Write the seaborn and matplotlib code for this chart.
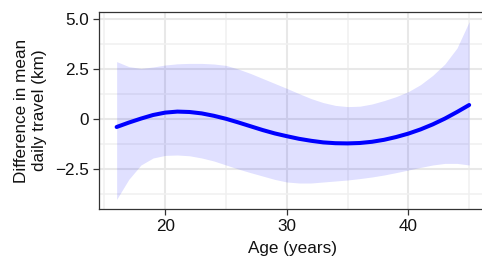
import numpy as np
import pandas as pd
import matplotlib
matplotlib.use("Agg")
import matplotlib.pyplot as plt
import seaborn as sns

# values
ages = [16, 17, 18, 19, 20, 21, 22, 23, 24, 25, 26, 27, 28, 29, 30,
        31, 32, 33, 34, 35, 36, 37, 38, 39, 40, 41, 42, 43, 44, 45]
mean_diff = [-0.40, -0.18, 0.02, 0.20, 0.32, 0.37, 0.35, 0.28, 0.16, 0.01,
             -0.17, -0.36, -0.55, -0.72, -0.86, -0.99, -1.09, -1.17, -1.21, -1.22,
             -1.20, -1.14, -1.04, -0.90, -0.73, -0.52, -0.27, 0.02, 0.35, 0.70]
upper = [2.87, 2.62, 2.53, 2.60, 2.70, 2.76, 2.78, 2.78, 2.75, 2.68,
         2.50, 2.28, 2.03, 1.78, 1.53, 1.27, 1.02, 0.82, 0.68, 0.62,
         0.64, 0.75, 0.92, 1.12, 1.37, 1.72, 2.18, 2.75, 3.55, 4.87]
lower = [-4.02, -3.02, -2.30, -1.95, -1.82, -1.80, -1.84, -1.95, -2.10, -2.30,
         -2.50, -2.68, -2.85, -3.02, -3.15, -3.20, -3.20, -3.15, -3.10, -3.05,
         -2.98, -2.90, -2.80, -2.68, -2.55, -2.42, -2.30, -2.22, -2.22, -2.30]

x_ticks = [20, 30, 40]
x_minor = [15, 25, 35, 45]
y_ticks = [5.0, 2.5, 0, -2.5]
y_tick_labels = ["5.0", "2.5", "0", "\u22122.5"]
y_minor = [3.75, 1.25, -1.25, -3.75]

df = pd.DataFrame({"age": ages, "diff": mean_diff, "lo": lower, "hi": upper})

sns.set_theme(style="white")
plt.rcParams["font.family"] = ["Liberation Sans", "DejaVu Sans"]

fig = plt.figure(figsize=(4.82, 2.69), dpi=100)
ax = fig.add_axes([99 / 482, 60 / 269, 387.8 / 482, 197 / 269])

# grid (major + minor), drawn below the data
ax.set_axisbelow(True)
ax.set_xticks(x_ticks)
ax.set_xticks(x_minor, minor=True)
ax.set_yticks(y_ticks)
ax.set_yticks(y_minor, minor=True)
ax.set_yticklabels(y_tick_labels)
ax.grid(which="major", color="#e8e8e8", linewidth=1.5)
ax.grid(which="minor", color="#f0f0f0", linewidth=1.1)

ax.fill_between(df["age"], df["lo"], df["hi"], color="#0000ff", alpha=0.12,
                linewidth=0, zorder=2)
sns.lineplot(data=df, x="age", y="diff", color="#0000ff", linewidth=2.9,
             ax=ax, zorder=3)

ax.set_xlim(14.55, 46.45)
ax.set_ylim(-4.5, 5.35)

for side in ["left", "bottom", "top"]:
    ax.spines[side].set_visible(True)
    ax.spines[side].set_color("#333333")
    ax.spines[side].set_linewidth(0.9)
ax.spines["right"].set_visible(False)

ax.tick_params(which="major", direction="out", length=4.3, width=0.9,
               color="#333333", labelsize=12.3, labelcolor="#111111", pad=3)
ax.tick_params(which="minor", length=0)
ax.tick_params(axis="x", bottom=True)
ax.tick_params(axis="y", left=True)

ax.set_xlabel("Age (years)", fontsize=12.3, labelpad=5, color="#111111")
ax.set_ylabel("Difference in mean\ndaily travel (km)", fontsize=12.3,
              labelpad=6, color="#111111")

fig.savefig("out.png", dpi=100)
